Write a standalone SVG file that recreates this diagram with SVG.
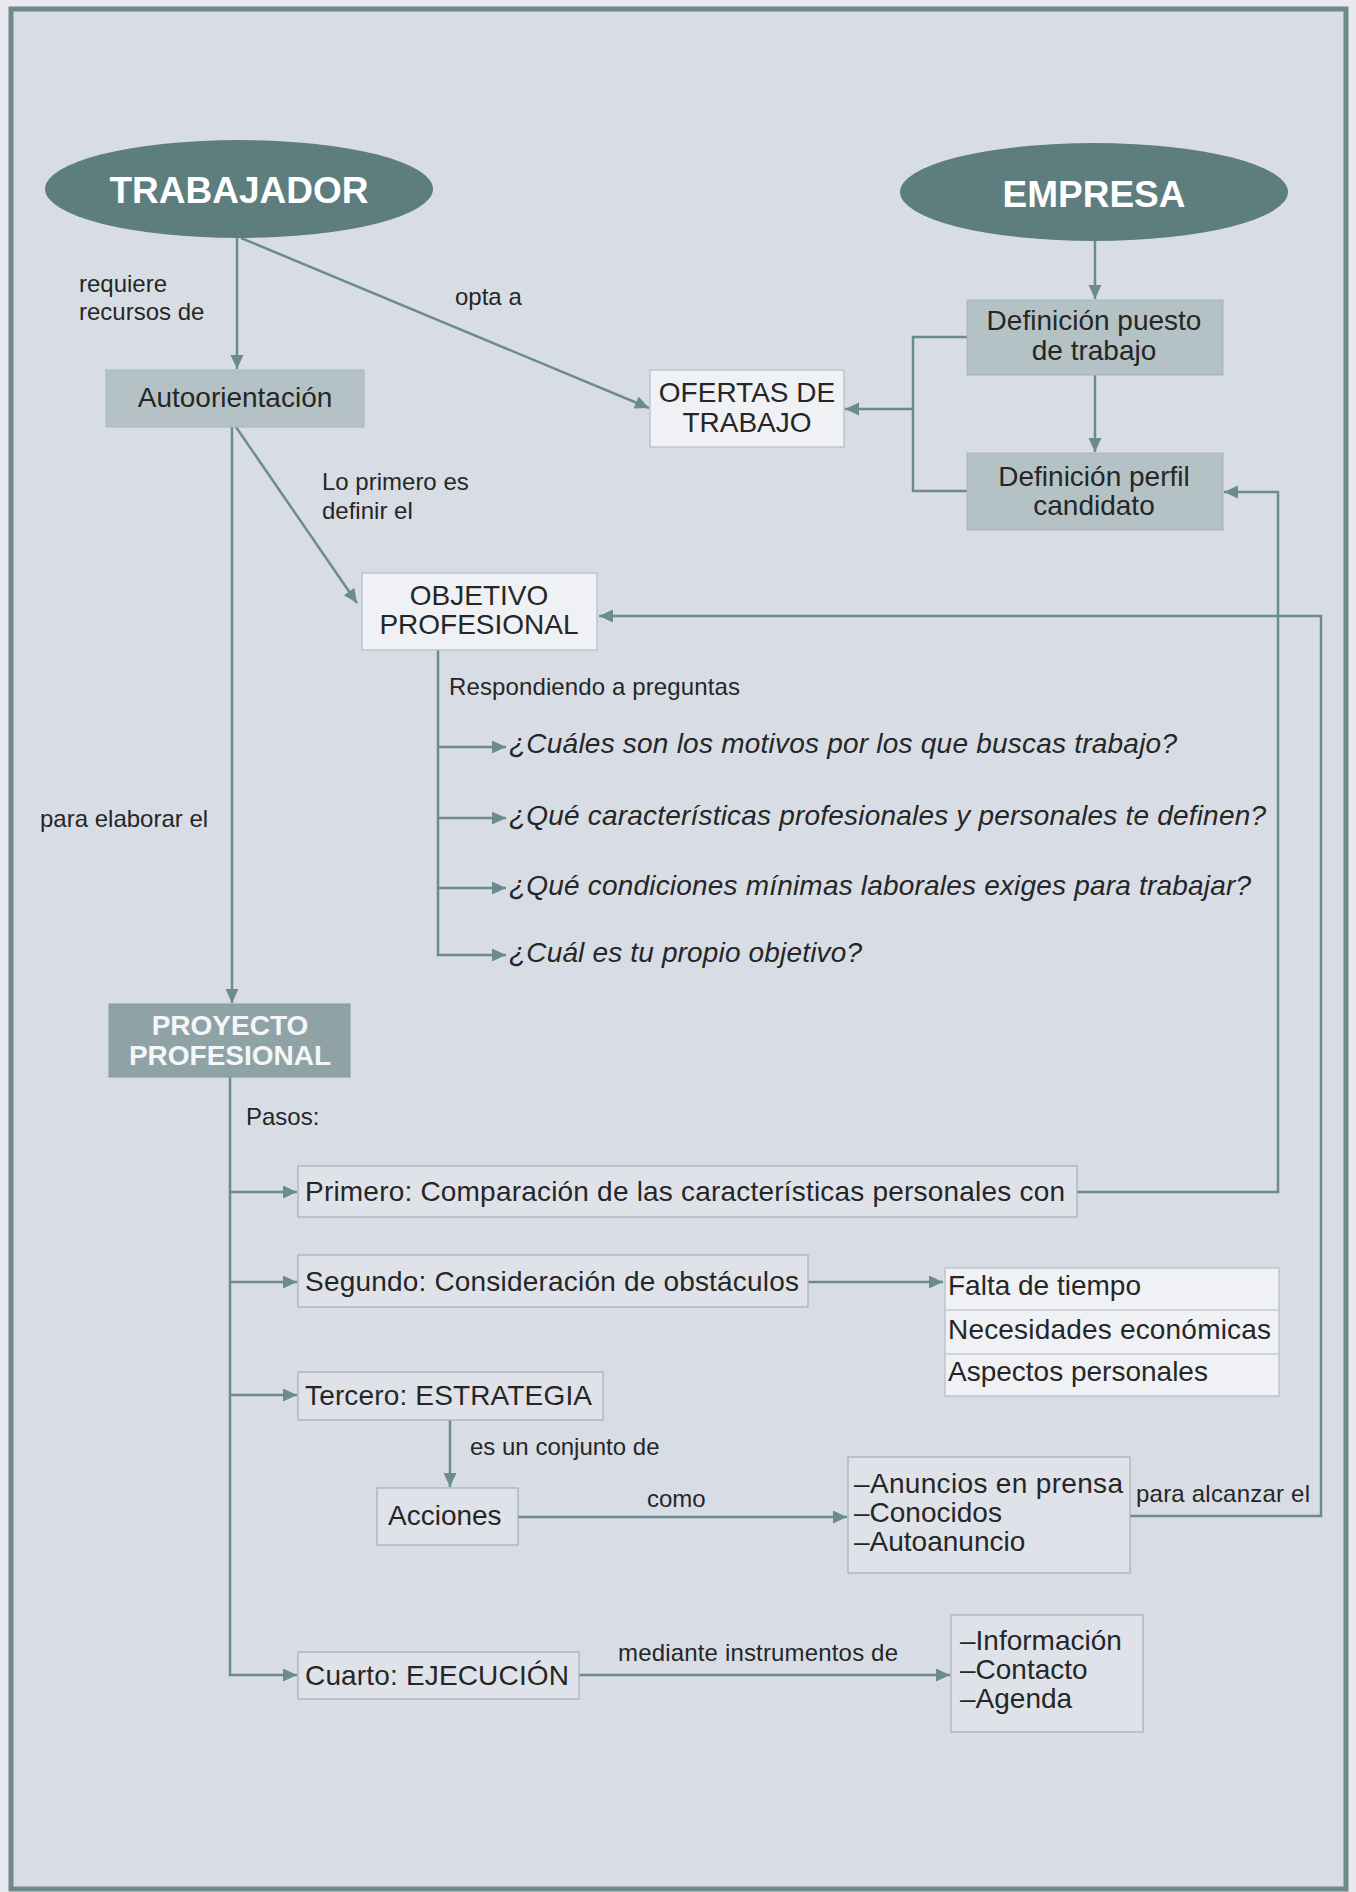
<svg xmlns="http://www.w3.org/2000/svg" width="1356" height="1892" viewBox="0 0 1356 1892">
  <style>
    text { font-family: "Liberation Sans", Arial, sans-serif; fill: #262626; }
    .lbl { font-size: 24px; }
    .box { font-size: 28px; }
    .q { font-size: 28px; font-style: italic; }
    .big { font-size: 37px; font-weight: bold; fill: #ffffff; }
    .wb { font-size: 28px; font-weight: bold; fill: #f4f6f7; }
    .mid { text-anchor: middle; }
    .ell { fill: #5e7d7f; }
    .dark { fill: #b4c2c5; stroke: #a6b5b8; stroke-width: 1; }
    .proj { fill: #8fa3a6; stroke: #869a9d; stroke-width: 1; }
    .light { fill: #eff1f4; stroke: #b3bcc1; stroke-width: 1.2; }
    .step { fill: #dfe3e9; stroke: #a9b3b8; stroke-width: 1.3; }
    .conn path { fill: none; stroke: #6c8b8c; stroke-width: 2.5; }
  </style>
  <defs>
    <marker id="ah" markerUnits="userSpaceOnUse" markerWidth="16" markerHeight="14" refX="14" refY="6.5" orient="auto">
      <path d="M0,0 L14,6.5 L0,13 z" fill="#6c8b8c"/>
    </marker>
  </defs>

  <!-- page and frame -->
  <rect x="0" y="0" width="1356" height="1892" fill="#e7e9ee"/>
  <rect x="11" y="9" width="1335" height="1880" fill="#d8dde5" stroke="#6f8a8b" stroke-width="5"/>

  <!-- connectors -->
  <g class="conn">
    <path d="M237,238 V369" marker-end="url(#ah)"/>
    <path d="M241,238 L649,408" marker-end="url(#ah)"/>
    <path d="M1095,241 V299" marker-end="url(#ah)"/>
    <path d="M1095,375 V452" marker-end="url(#ah)"/>
    <path d="M967,337 H913 V491 H967"/>
    <path d="M913,409 H845" marker-end="url(#ah)"/>
    <path d="M236,427 L357,603" marker-end="url(#ah)"/>
    <path d="M232,427 V1003" marker-end="url(#ah)"/>
    <path d="M438,650 V955 H506" marker-end="url(#ah)"/>
    <path d="M438,747 H506" marker-end="url(#ah)"/>
    <path d="M438,818 H506" marker-end="url(#ah)"/>
    <path d="M438,888 H506" marker-end="url(#ah)"/>
    <path d="M230,1077 V1675 H297" marker-end="url(#ah)"/>
    <path d="M230,1192 H297" marker-end="url(#ah)"/>
    <path d="M230,1282 H297" marker-end="url(#ah)"/>
    <path d="M230,1395 H297" marker-end="url(#ah)"/>
    <path d="M808,1282 H943" marker-end="url(#ah)"/>
    <path d="M450,1420 V1487" marker-end="url(#ah)"/>
    <path d="M518,1517 H847" marker-end="url(#ah)"/>
    <path d="M579,1675 H950" marker-end="url(#ah)"/>
    <path d="M1077,1192 H1278 V492 H1224" marker-end="url(#ah)"/>
    <path d="M1130,1516 H1321 V616 H599" marker-end="url(#ah)"/>
  </g>

  <!-- connector labels -->
  <g id="labels">
    <text class="lbl" x="79" y="292">requiere</text>
    <text class="lbl" x="79" y="320">recursos de</text>
    <text class="lbl" x="455" y="305">opta a</text>
    <text class="lbl" x="322" y="490">Lo primero es</text>
    <text class="lbl" x="322" y="519">definir el</text>
    <text class="lbl" x="40" y="827">para elaborar el</text>
    <text class="lbl" x="449" y="695" textLength="291">Respondiendo a preguntas</text>
    <text class="lbl" x="246" y="1125">Pasos:</text>
    <text class="lbl" x="470" y="1455">es un conjunto de</text>
    <text class="lbl" x="647" y="1507">como</text>
    <text class="lbl" x="1136" y="1502" textLength="174">para alcanzar el</text>
    <text class="lbl" x="618" y="1661" textLength="280">mediante instrumentos de</text>
  </g>

  <g id="trabajador">
    <ellipse class="ell" cx="239" cy="189" rx="194" ry="49"/>
    <text class="big mid" x="239" y="203">TRABAJADOR</text>
  </g>

  <g id="empresa">
    <ellipse class="ell" cx="1094" cy="192" rx="194" ry="49"/>
    <text class="big mid" x="1094" y="207">EMPRESA</text>
  </g>

  <g id="autoorientacion">
    <rect class="dark" x="106" y="370" width="258" height="57"/>
    <text class="box mid" x="235" y="407">Autoorientación</text>
  </g>

  <g id="ofertas">
    <rect class="light" x="650" y="370" width="194" height="77"/>
    <text class="box mid" x="747" y="402">OFERTAS DE</text>
    <text class="box mid" x="747" y="432">TRABAJO</text>
  </g>

  <g id="definicion-puesto">
    <rect class="dark" x="967" y="300" width="256" height="75"/>
    <text class="box mid" x="1094" y="330">Definición puesto</text>
    <text class="box mid" x="1094" y="360">de trabajo</text>
  </g>

  <g id="definicion-perfil">
    <rect class="dark" x="967" y="453" width="256" height="77"/>
    <text class="box mid" x="1094" y="486">Definición perfil</text>
    <text class="box mid" x="1094" y="515">candidato</text>
  </g>

  <g id="objetivo">
    <rect class="light" x="362" y="573" width="235" height="77"/>
    <text class="box mid" x="479" y="605">OBJETIVO</text>
    <text class="box mid" x="479" y="634">PROFESIONAL</text>
  </g>

  <g id="preguntas">
    <text class="q" x="509" y="753" textLength="668">¿Cuáles son los motivos por los que buscas trabajo?</text>
    <text class="q" x="509" y="825" textLength="757">¿Qué características profesionales y personales te definen?</text>
    <text class="q" x="509" y="895" textLength="742">¿Qué condiciones mínimas laborales exiges para trabajar?</text>
    <text class="q" x="509" y="962" textLength="353">¿Cuál es tu propio objetivo?</text>
  </g>

  <g id="proyecto">
    <rect class="proj" x="109" y="1004" width="241" height="73"/>
    <text class="wb mid" x="230" y="1035">PROYECTO</text>
    <text class="wb mid" x="230" y="1065">PROFESIONAL</text>
  </g>

  <g id="primero">
    <rect class="step" x="298" y="1166" width="779" height="51"/>
    <text class="box" x="305" y="1201" textLength="760">Primero: Comparación de las características personales con</text>
  </g>

  <g id="segundo">
    <rect class="step" x="298" y="1255" width="510" height="52"/>
    <text class="box" x="305" y="1291" textLength="494">Segundo: Consideración de obstáculos</text>
  </g>

  <g id="obstaculos">
    <rect class="light" x="945" y="1268" width="334" height="128" fill="#e3e6eb"/>
    <path d="M945,1310 H1279 M945,1354 H1279" stroke="#b3bcc1" stroke-width="1.2"/>
    <text class="box" x="948" y="1295">Falta de tiempo</text>
    <text class="box" x="948" y="1339" textLength="323">Necesidades económicas</text>
    <text class="box" x="948" y="1381">Aspectos personales</text>
  </g>

  <g id="tercero">
    <rect class="step" x="298" y="1372" width="305" height="48"/>
    <text class="box" x="305" y="1405" textLength="287">Tercero: ESTRATEGIA</text>
  </g>

  <g id="acciones">
    <rect class="step" x="377" y="1488" width="141" height="57"/>
    <text class="box" x="388" y="1525">Acciones</text>
  </g>

  <g id="medios">
    <rect class="step" x="848" y="1457" width="282" height="116" fill="#e3e6eb"/>
    <text class="box" x="854" y="1493" textLength="269">–Anuncios en prensa</text>
    <text class="box" x="854" y="1522">–Conocidos</text>
    <text class="box" x="854" y="1551">–Autoanuncio</text>
  </g>

  <g id="cuarto">
    <rect class="step" x="298" y="1652" width="281" height="47"/>
    <text class="box" x="305" y="1685" textLength="264">Cuarto: EJECUCIÓN</text>
  </g>

  <g id="instrumentos">
    <rect class="step" x="951" y="1615" width="192" height="117" fill="#e3e6eb"/>
    <text class="box" x="960" y="1650">–Información</text>
    <text class="box" x="960" y="1679">–Contacto</text>
    <text class="box" x="960" y="1708">–Agenda</text>
  </g>
</svg>
